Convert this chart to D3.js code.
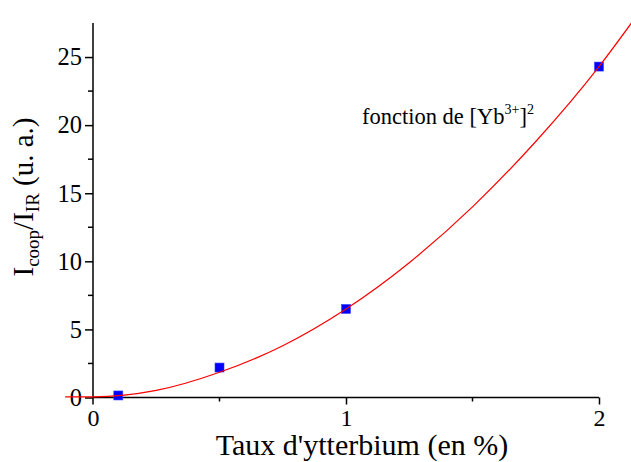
<!DOCTYPE html>
<html><head><meta charset="utf-8">
<script src="https://cdn.jsdelivr.net/npm/d3@7"></script>
<style>body{margin:0;background:#fff}svg{display:block}</style>
</head><body><svg id="c" width="631" height="462"></svg>
<script>
// measured data points
const dopingX = [0.1, 0.5, 1, 2];
const ratioY = [0.15, 2.2, 6.5, 24.3];
// fitted curve
const fitX = [-0.11, 0, 0.25, 0.5, 0.75, 1, 1.25, 1.5, 1.75, 2, 2.14];
const fitY = [0.05, 0.05, 0.52, 1.85, 3.8, 6.5, 9.9, 14.0, 18.8, 24.3, 27.8];
const xTicks = [0, 1, 2];
const xMinor = [0.5, 1.5];
const yTicks = [0, 5, 10, 15, 20, 25];
const yMinor = [2.5, 7.5, 12.5, 17.5, 22.5];

const FONT = "'Liberation Serif', 'Times New Roman', Times, 'DejaVu Serif', serif";
const svg = d3.select("#c");
const x = d3.scaleLinear().domain([0, 2]).range([93, 599]);
const y = d3.scaleLinear().domain([0, 27.5]).range([397.5, 23]);

// axes
const xAxis = d3.axisBottom(x).tickValues(xTicks).tickSize(7).tickPadding(4).tickFormat(d3.format("d"));
const gx = svg.append("g").attr("transform", `translate(0,${y(0)})`).call(xAxis);
gx.attr("font-family", null);
gx.select(".domain").attr("d", `M${x(0)},0H${x(2)}`).attr("stroke-width", 1.5);
gx.selectAll(".tick").filter(d => d === 0).select("line").remove();
gx.selectAll("line").attr("stroke-width", 1.5);
gx.selectAll("text").style("font-family", FONT).style("font-size", "24px");
gx.selectAll(".minor").data(xMinor).enter().append("line")
  .attr("x1", d => x(d)).attr("x2", d => x(d)).attr("y1", 0).attr("y2", 4)
  .attr("stroke", "#000").attr("stroke-width", 1.5);
gx.append("line").attr("x1", x(0)).attr("x2", x(0)).attr("y1", 0).attr("y2", 7).attr("stroke", "#000").attr("stroke-width", 1.5);

const yAxis = d3.axisLeft(y).tickValues(yTicks).tickSize(8).tickPadding(3);
const gy = svg.append("g").attr("transform", `translate(${x(0)},0)`).call(yAxis);
gy.attr("font-family", null);
gy.select(".domain").attr("d", `M0,${y(0)}V${y(27.5)}`).attr("stroke-width", 1.5);
gy.selectAll("line").attr("stroke-width", 1.5);
gy.selectAll("text").style("font-family", FONT).style("font-size", "24.5px");
gy.selectAll(".minor").data(yMinor).enter().append("line")
  .attr("x1", -5).attr("x2", 0).attr("y1", d => y(d)).attr("y2", d => y(d))
  .attr("stroke", "#000").attr("stroke-width", 1.5);

// fitted curve
const line = d3.line().x(d => x(d[0])).y(d => y(d[1])).curve(d3.curveMonotoneX);
const fitData = fitX.map((v, i) => [v, fitY[i]]);

// markers
svg.selectAll(".pt").data(dopingX.map((v, i) => [v, ratioY[i]])).enter().append("rect")
  .attr("x", d => x(d[0]) - 4.5).attr("y", d => y(d[1]) - 4.5)
  .attr("width", 9).attr("height", 9).attr("fill", "#0000ff")
  .attr("stroke", "#3344ff").attr("stroke-width", 0.6);
svg.append("path").datum(fitData)
  .attr("d", line).attr("fill", "none").attr("stroke", "#ff0000").attr("stroke-width", 1.2);

// x title
svg.append("text").attr("x", 362).attr("y", 455).attr("text-anchor", "middle")
  .style("font-family", FONT).style("font-size", "30px").text("Taux d'ytterbium (en %)");

// y title
const yt = svg.append("text").attr("transform", "translate(33,197) rotate(-90)")
  .attr("text-anchor", "middle").style("font-family", FONT).style("font-size", "29px");
yt.append("tspan").text("I");
yt.append("tspan").style("font-size", "19px").attr("dy", 6).text("coop");
yt.append("tspan").attr("dy", -6).text("/I");
yt.append("tspan").style("font-size", "19px").attr("dy", 6).text("IR");
yt.append("tspan").attr("dy", -6).text(" (u. a.)");

// annotation
const an = svg.append("text").attr("x", 362).attr("y", 124)
  .style("font-family", FONT).style("font-size", "22.5px");
an.append("tspan").text("fonction de [Yb");
an.append("tspan").style("font-size", "14px").attr("dy", -10).text("3+");
an.append("tspan").attr("dy", 10).text("]");
an.append("tspan").style("font-size", "14px").attr("dy", -10).text("2");
</script></body></html>
